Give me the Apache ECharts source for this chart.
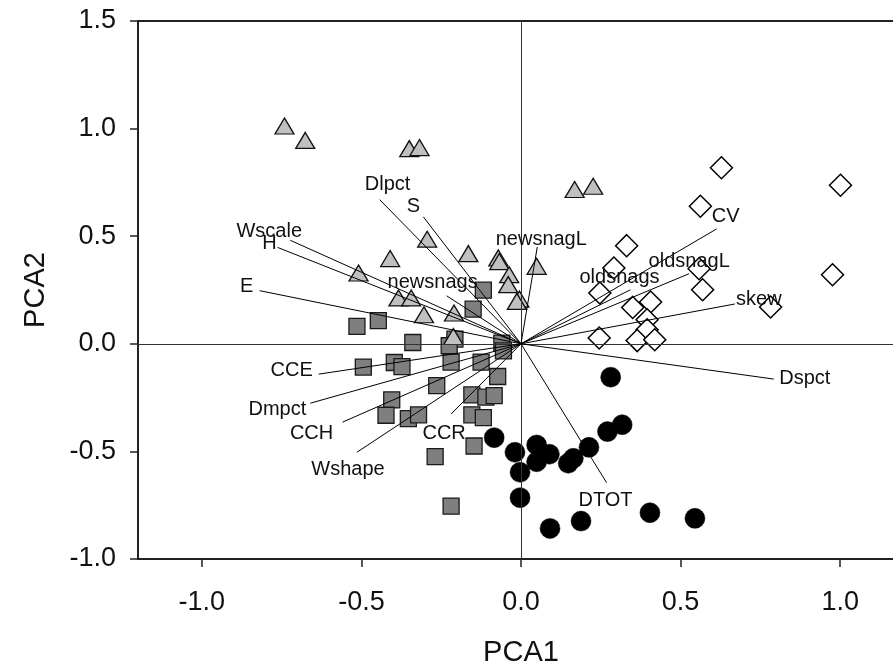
<!DOCTYPE html>
<html>
<head>
<meta charset="utf-8">
<script src="https://cdn.jsdelivr.net/npm/echarts@6/dist/echarts.min.js"></script>
<style>
  html, body { margin: 0; padding: 0; background: #fff; overflow: hidden; }
  #chart { width: 893px; height: 667px; }
</style>
</head>
<body>
<div id="chart"></div>
<script>
// Site scores on the first two principal components, one array per site group
const triangleSites = [
  [-0.741, 1.012], [-0.676, 0.945], [-0.350, 0.907], [-0.318, 0.912],
  [-0.294, 0.486], [-0.410, 0.396], [-0.165, 0.419], [-0.071, 0.399],
  [-0.068, 0.382], [-0.509, 0.329], [0.049, 0.360], [-0.037, 0.321],
  [-0.040, 0.275], [-0.005, 0.208], [-0.013, 0.197], [-0.384, 0.213],
  [-0.344, 0.213], [-0.304, 0.135], [-0.210, 0.143], [-0.212, 0.034],
  [0.168, 0.717], [0.226, 0.732]
];
const squareSites = [
  [-0.118, 0.249], [-0.150, 0.161], [-0.514, 0.081], [-0.447, 0.108],
  [-0.339, 0.006], [-0.207, 0.022], [-0.225, -0.009], [-0.060, 0.003],
  [-0.055, -0.033], [-0.494, -0.108], [-0.397, -0.087], [-0.373, -0.106],
  [-0.219, -0.085], [-0.125, -0.085], [-0.073, -0.152], [-0.264, -0.194],
  [-0.405, -0.261], [-0.423, -0.332], [-0.353, -0.348], [-0.321, -0.330],
  [-0.154, -0.237], [-0.110, -0.248], [-0.084, -0.241], [-0.154, -0.330],
  [-0.118, -0.343], [-0.147, -0.475], [-0.269, -0.524], [-0.219, -0.754]
];
const circleSites = [
  [0.281, -0.155], [-0.084, -0.436], [-0.019, -0.504], [0.049, -0.470],
  [0.089, -0.513], [0.049, -0.548], [-0.003, -0.597], [0.148, -0.555],
  [0.164, -0.532], [0.213, -0.481], [0.271, -0.408], [0.317, -0.376],
  [-0.003, -0.715], [0.091, -0.858], [0.188, -0.824], [0.404, -0.785],
  [0.545, -0.811]
];
const diamondSites = [
  [0.628, 0.818], [1.001, 0.737], [0.562, 0.639], [0.331, 0.456],
  [0.291, 0.352], [0.558, 0.349], [0.976, 0.321], [0.247, 0.236],
  [0.569, 0.251], [0.350, 0.169], [0.406, 0.194], [0.782, 0.171],
  [0.395, 0.112], [0.395, 0.065], [0.245, 0.027], [0.364, 0.015],
  [0.419, 0.019]
];

// Variable loadings (biplot vectors from the origin)
const loadingNames = ['Dlpct', 'S', 'Wscale', 'H', 'E', 'newsnags', 'newsnagL',
  'CV', 'oldsnagL', 'oldsnags', 'skew', 'Dspct', 'DTOT',
  'CCE', 'Dmpct', 'CCH', 'Wshape', 'CCR'];
const loadingX = [-0.443, -0.306, -0.723, -0.763, -0.819, -0.233, 0.051,
  0.613, 0.527, 0.343, 0.670, 0.792, 0.268,
  -0.634, -0.660, -0.559, -0.514, -0.219];
const loadingY = [0.670, 0.590, 0.481, 0.448, 0.247, 0.223, 0.450,
  0.534, 0.326, 0.251, 0.185, -0.164, -0.645,
  -0.141, -0.276, -0.364, -0.504, -0.326];

// Where each vector label sits relative to its arrow tip (pixels)
const labelShift = [[8, -15], [-10, -10], [-21, -9], [-8, -4], [-13, -4], [-14, -13], [4, -7],
  [9, -12], [0, -12], [-11, -12], [24, -5], [31, -1], [-1, 18],
  [-27, -4], [-33, 6], [-31, 11], [-9, 17], [-7, 20]];

// Axis tick labels
const xTicks = [-1.0, -0.5, 0.0, 0.5, 1.0];
const yTicks = [-1.0, -0.5, 0.0, 0.5, 1.0, 1.5];

const FONT = '"Liberation Sans", Arial, Helvetica, sans-serif';

const chart = echarts.init(document.getElementById('chart'), null, { renderer: 'canvas' });

chart.setOption({
  animation: false,
  backgroundColor: '#fff',
  grid: {
    // the frame runs on past the right edge of the page
    left: 138, top: 21, width: 766, height: 538,
    containLabel: false, outerBoundsMode: 'none',
    show: true, borderColor: '#222', borderWidth: 2, backgroundColor: 'transparent'
  },
  xAxis: {
    type: 'value', min: -1.2, max: 1.2,
    name: 'PCA1', nameLocation: 'middle', nameGap: 79,
    nameTextStyle: { fontFamily: FONT, fontSize: 29, color: '#111' },
    splitLine: { show: false },
    axisLine: { show: true, onZero: false, lineStyle: { color: '#222', width: 2 } },
    axisTick: { show: true, inside: false, length: 8, customValues: xTicks, lineStyle: { color: '#222', width: 1.5 } },
    axisLabel: {
      customValues: xTicks, margin: 30,
      fontFamily: FONT, fontSize: 27, color: '#111',
      formatter: v => v.toFixed(1)
    }
  },
  yAxis: {
    type: 'value', min: -1.0, max: 1.5, interval: 0.5,
    name: 'PCA2', nameLocation: 'middle', nameGap: 88, nameRotate: 90,
    nameTextStyle: { fontFamily: FONT, fontSize: 29, color: '#111' },
    splitLine: { show: false },
    axisLine: { show: true, onZero: false, lineStyle: { color: '#222', width: 2 } },
    axisTick: { show: true, inside: false, length: 8, customValues: yTicks, lineStyle: { color: '#222', width: 1.5 } },
    axisLabel: {
      customValues: yTicks, margin: 22,
      fontFamily: FONT, fontSize: 27, color: '#111',
      formatter: v => v.toFixed(1)
    }
  },
  series: [
    {
      type: 'scatter', data: squareSites, symbol: 'rect', symbolSize: 16, z: 2,
      itemStyle: { color: '#7f7f7f', borderColor: '#1a1a1a', borderWidth: 1.3, opacity: 1 },
      markLine: {
        silent: true, symbol: 'none', animation: false,
        label: { show: false },
        lineStyle: { color: '#333', width: 1, type: 'solid' },
        data: [{ xAxis: 0 }, { yAxis: 0 }]
      }
    },
    {
      type: 'scatter', data: triangleSites, symbol: 'triangle', symbolSize: [19, 16], z: 3,
      itemStyle: { color: '#c0c0c0', borderColor: '#111', borderWidth: 1.3, opacity: 1 }
    },
    {
      type: 'scatter', data: circleSites, symbol: 'circle', symbolSize: 20, z: 3,
      itemStyle: { color: '#000', borderColor: '#000', borderWidth: 0.5, opacity: 1 }
    },
    {
      type: 'scatter', data: diamondSites, symbol: 'diamond', symbolSize: 22, z: 3,
      itemStyle: { color: '#fff', borderColor: '#000', borderWidth: 1.5, opacity: 1 }
    },
    {
      type: 'custom', coordinateSystem: 'cartesian2d', z: 6,
      data: loadingNames.map((n, i) => [loadingX[i], loadingY[i], i]),
      encode: { x: 0, y: 1 },
      renderItem: function (params, api) {
        const o = api.coord([0, 0]);
        const e = api.coord([api.value(0), api.value(1)]);
        const i = api.value(2);
        const s = labelShift[i];
        return {
          type: 'group',
          children: [
            {
              type: 'line',
              shape: { x1: o[0], y1: o[1], x2: e[0], y2: e[1] },
              style: { stroke: '#000', lineWidth: 1 }
            },
            {
              type: 'text',
              x: e[0] + s[0], y: e[1] + s[1],
              style: {
                text: loadingNames[i],
                font: '20px ' + FONT,
                fill: '#111',
                align: 'center', verticalAlign: 'middle',
                textAlign: 'center', textVerticalAlign: 'middle'
              }
            }
          ]
        };
      }
    }
  ]
});
</script>
</body>
</html>
